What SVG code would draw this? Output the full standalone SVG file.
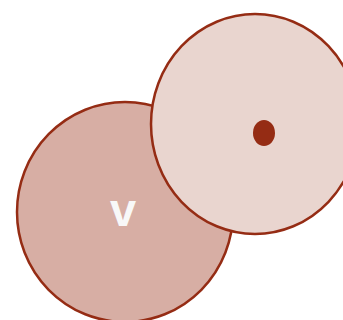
<svg xmlns="http://www.w3.org/2000/svg" width="343" height="320" viewBox="0 0 343 320">
<style>
.c{stroke:#952c14;stroke-width:2.5}
.lbl{font-family:"Liberation Sans",Arial,sans-serif;font-weight:bold;fill:#f8f8f8;text-anchor:middle}
</style>
<rect width="343" height="320" fill="#ffffff"/>
<g id="node-v">
<ellipse class="c" cx="125" cy="212" rx="108" ry="110" fill="#d7aea4"/>
<text class="lbl" x="123" y="226" font-size="47">v</text>
</g>
<g id="node-dot">
<ellipse class="c" cx="255" cy="124" rx="104" ry="110" fill="#e9d5cf"/>
<ellipse cx="264" cy="133" rx="11" ry="13" fill="#952c14"/>
</g>
<g id="connectors"/>
</svg>
